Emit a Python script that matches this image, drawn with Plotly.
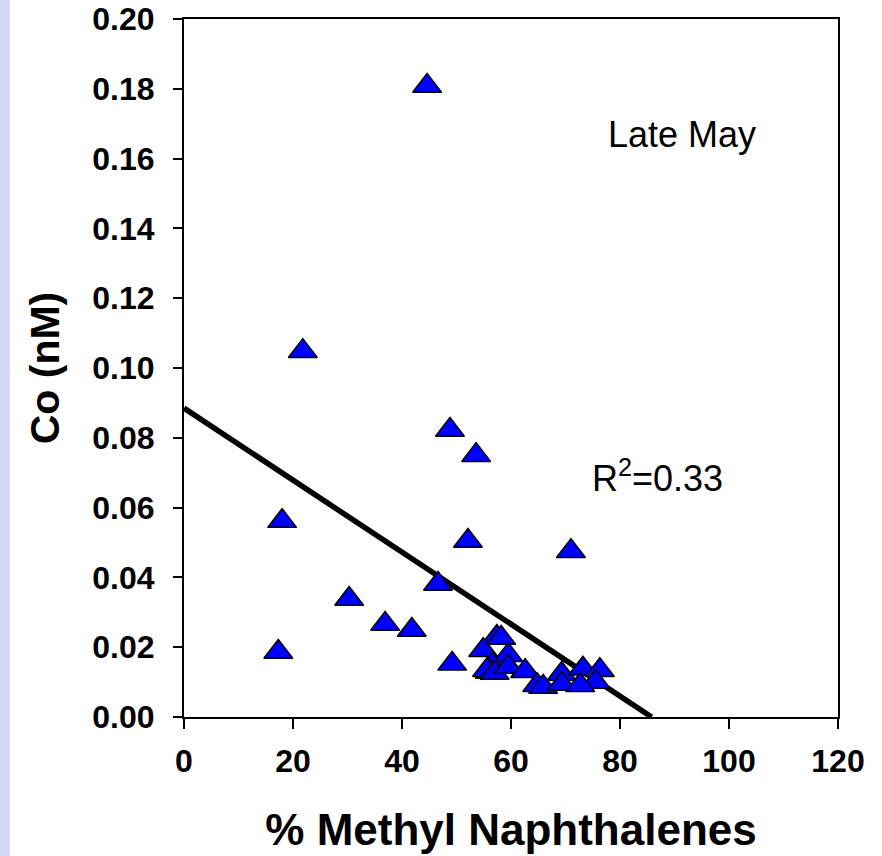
import plotly.graph_objects as go

# ---- data ----
methyl_naph = [44.6, 21.8, 48.8, 53.6, 18.0, 52.1, 71.0, 30.3, 46.6, 36.9, 41.8, 17.3, 49.2,
               57.4, 58.2, 54.9, 59.5, 56.5, 56.1, 55.6, 57.0, 59.5, 62.6, 64.8, 65.9,
               69.3, 69.3, 73.2, 76.3, 75.5, 72.7]
co_nM = [0.1814, 0.1054, 0.0828, 0.0756, 0.0567, 0.0510, 0.0481, 0.0344, 0.0387, 0.0272, 0.0255, 0.0192, 0.0158,
         0.0235, 0.0232, 0.0197, 0.0183, 0.0155, 0.0135, 0.0140, 0.0132, 0.0149, 0.0137, 0.0097, 0.0092,
         0.0129, 0.0100, 0.0144, 0.0140, 0.0106, 0.0097]
trend_x = [0.0, 85.8]
trend_y = [0.0885, 0.0]
x_ticks = [0, 20, 40, 60, 80, 100, 120]
y_ticks = [0.00, 0.02, 0.04, 0.06, 0.08, 0.10, 0.12, 0.14, 0.16, 0.18, 0.20]

FONT = "Liberation Sans, Arial, sans-serif"
W, H = 882, 856
ML, MR, MT, MB = 184, 44, 19, 139
PW, PH = W - ML - MR, H - MT - MB

fig = go.Figure()
fig.add_trace(go.Scatter(
    x=trend_x, y=trend_y, mode="lines",
    line=dict(color="black", width=5.5), showlegend=False, hoverinfo="skip"))
fig.add_trace(go.Scatter(
    x=methyl_naph, y=co_nM, mode="markers",
    marker=dict(symbol="triangle-up", size=25, color="#0000FF",
                line=dict(color="black", width=1.5), standoff=2),
    showlegend=False))

fig.add_annotation(x=91.4, y=0.1669, xref="x", yref="y", text="Late May",
                   showarrow=False, font=dict(family=FONT, size=36, color="black"))
fig.add_annotation(x=86.9, y=0.0690, xref="x", yref="y", text="R<sup>2</sup>=0.33",
                   showarrow=False, font=dict(family=FONT, size=36, color="black"))

# lavender stripe on the left edge
fig.add_shape(type="rect", xref="paper", yref="paper", layer="below",
              x0=-ML / PW, x1=(10 - ML) / PW, y0=-MB / PH, y1=1 + MT / PH,
              fillcolor="#D5D8F6", line=dict(width=0))

fig.update_layout(
    width=W, height=H,
    margin=dict(l=ML, r=MR, t=MT, b=MB, autoexpand=False),
    paper_bgcolor="white", plot_bgcolor="white",
    font=dict(family=FONT, color="black"),
    xaxis=dict(range=[0, 120], tickvals=x_ticks, ticktext=[str(v) for v in x_ticks],
               showgrid=False, zeroline=False, showline=True, linecolor="black", linewidth=2,
               mirror=True, ticks="outside", ticklen=10, tickwidth=2, tickcolor="black",
               tickfont=dict(family=FONT, size=32, color="black", weight="bold"), ticklabelstandoff=5,
               title=dict(text="<b>% Methyl Naphthalenes</b>", standoff=36,
                          font=dict(family=FONT, size=44, color="black"))),
    yaxis=dict(range=[0, 0.2], tickvals=y_ticks, ticktext=[f"{v:.2f}" for v in y_ticks],
               showgrid=False, zeroline=False, showline=True, linecolor="black", linewidth=2,
               mirror=True, ticks="outside", ticklen=9, tickwidth=2, tickcolor="black",
               tickfont=dict(family=FONT, size=32, color="black", weight="bold"), ticklabelstandoff=12,
               title=dict(text="<b>Co (nM)</b>", standoff=20,
                          font=dict(family=FONT, size=41, color="black"))),
)

fig.write_html("out.html", config={"displayModeBar": False},
               post_script="document.body.style.margin='0';")
